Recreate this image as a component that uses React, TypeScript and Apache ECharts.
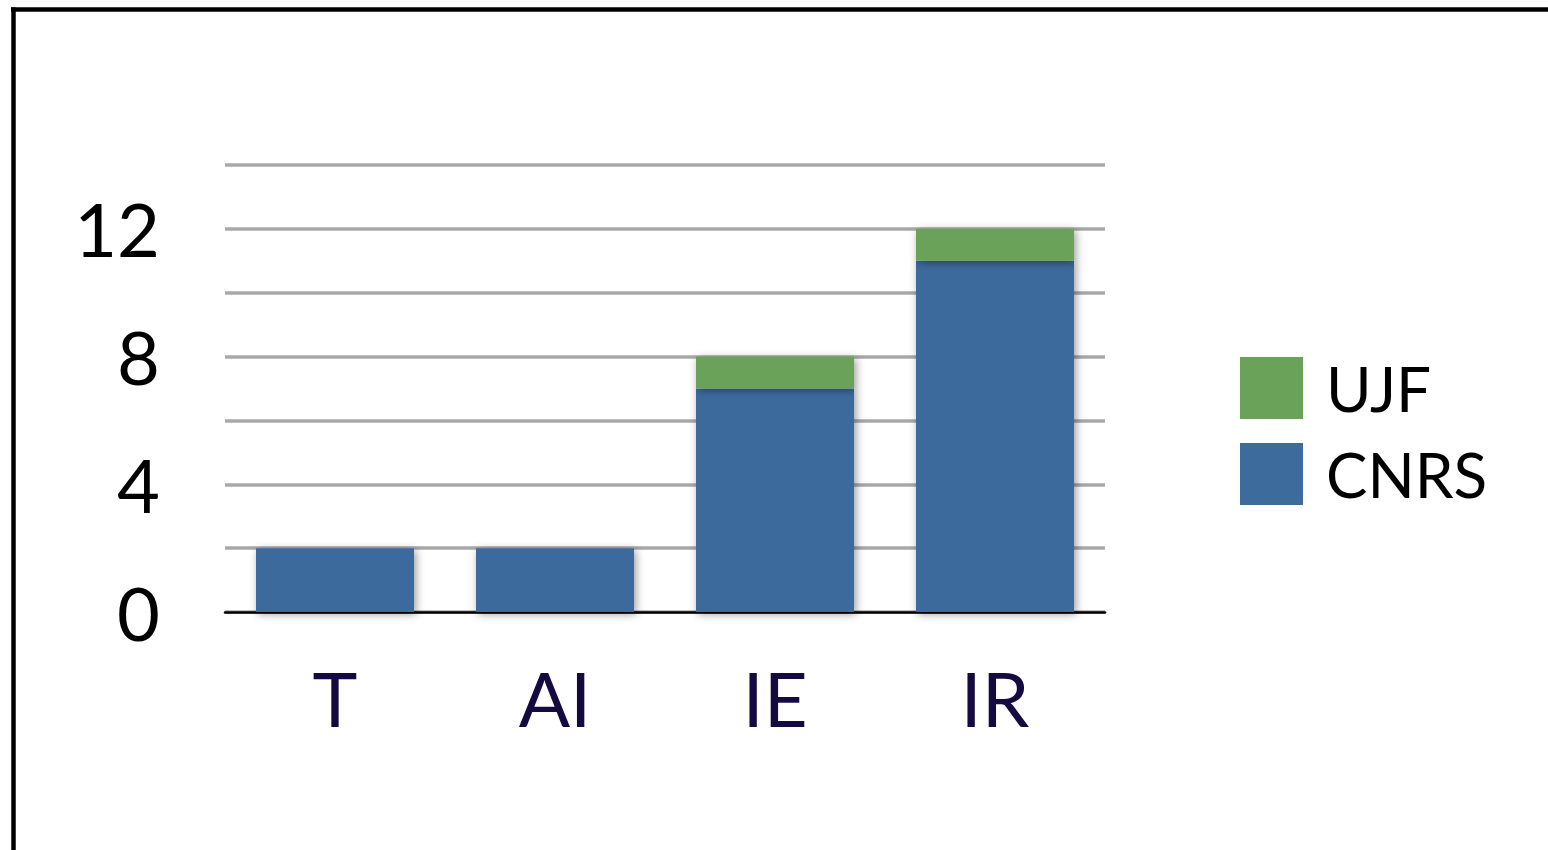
import React, { useEffect, useRef } from "react";
import * as echarts from "echarts";

const categories = ["T", "AI", "IE", "IR"];
const cnrsValues = [2, 2, 7, 11];
const ujfValues = [0, 0, 1, 1];
const yMax = 14;
const yInterval = 2;
const labelStep = 4;

export default function App() {
  const ref = useRef<HTMLDivElement>(null);
  useEffect(() => {
    if (!ref.current) return;
    const chart = echarts.init(ref.current, undefined, { renderer: "svg" });
    const font = "Lato, 'Open Sans', sans-serif";
    const shadow = {
      shadowBlur: 8,
      shadowColor: "rgba(0,0,0,0.4)",
      shadowOffsetX: 2,
      shadowOffsetY: 2,
    };
    chart.setOption({
      animation: false,
      backgroundColor: "#ffffff",
      grid: { left: 225, right: 443, top: 165, bottom: 238 },
      legend: {
        left: 1240,
        top: 357,
        padding: 0,
        orient: "vertical",
        itemWidth: 63,
        itemHeight: 62,
        itemGap: 24,
        icon: "rect",
        data: ["UJF", "CNRS"],
        textStyle: { fontFamily: font, fontSize: 62, color: "#000", padding: [0, 0, 0, 18] },
      },
      xAxis: {
        type: "category",
        data: categories,
        axisLine: { lineStyle: { color: "#000", width: 2.5 } },
        axisTick: { show: false },
        axisLabel: {
          fontFamily: font,
          fontSize: 76,
          color: "#140a40",
          margin: 47,
          lineHeight: 76,
        },
      },
      yAxis: {
        type: "value",
        min: 0,
        max: yMax,
        interval: yInterval,
        axisLine: { show: false },
        axisTick: { show: false },
        splitLine: { lineStyle: { color: "#a8a8a8", width: 3.5 } },
        axisLabel: {
          fontFamily: font,
          fontSize: 74,
          color: "#000",
          margin: 65,
          formatter: (v: number) => (v % labelStep === 0 ? String(v) : ""),
        },
      },
      series: [
        {
          name: "CNRS",
          type: "bar",
          stack: "total",
          data: cnrsValues,
          barWidth: 158,
          itemStyle: { color: "#3c6b9c", ...shadow },
        },
        {
          name: "UJF",
          type: "bar",
          stack: "total",
          data: ujfValues,
          barWidth: 158,
          itemStyle: { color: "#6aa25a", ...shadow },
        },
      ],
      graphic: [
        {
          type: "line",
          shape: { x1: 11, y1: 9.5, x2: 1548, y2: 9.5 },
          style: { stroke: "#000", lineWidth: 4.5 },
        },
        {
          type: "line",
          shape: { x1: 13.5, y1: 7.5, x2: 13.5, y2: 850 },
          style: { stroke: "#000", lineWidth: 4.5 },
        },
      ],
    });
    return () => chart.dispose();
  }, []);
  return (
    <div
      ref={ref}
      style={{ position: "fixed", left: 0, top: 0, width: 1548, height: 850 }}
    />
  );
}
